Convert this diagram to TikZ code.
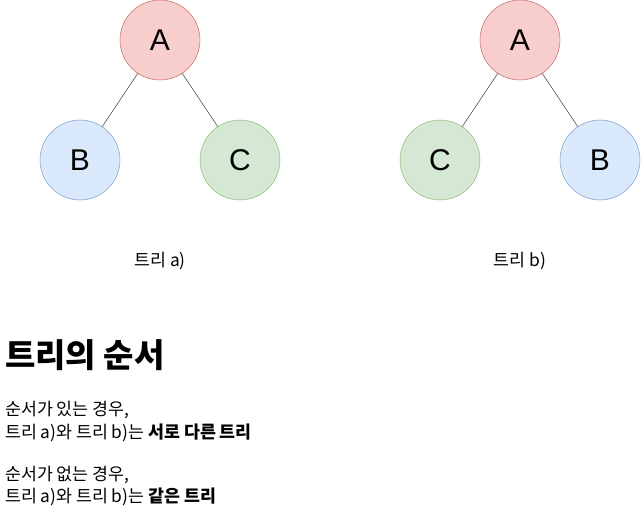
\documentclass[tikz,border=0pt]{standalone}
\usepackage{fontspec}
\setmainfont{Noto Sans CJK KR}
\newfontfamily\latinsans{Liberation Sans}
\begin{document}
\begin{tikzpicture}[x=1pt,y=-1pt,
  nd/.style={circle,minimum size=80pt,inner sep=0pt,font=\latinsans\fontsize{30}{32}\selectfont},
  red/.style={nd,fill={rgb,255:red,248;green,206;blue,204},draw={rgb,255:red,184;green,84;blue,80}},
  blu/.style={nd,fill={rgb,255:red,218;green,232;blue,252},draw={rgb,255:red,108;green,142;blue,191}},
  grn/.style={nd,fill={rgb,255:red,213;green,232;blue,212},draw={rgb,255:red,130;green,179;blue,102}},
  txt/.style={font=\fontsize{17.3}{22}\selectfont,inner sep=0pt}]
\useasboundingbox (0,0) rectangle (641,531);
\node[red] (a1) at (160,40) {A};
\node[blu] (b1) at (80,160) {B};
\node[grn] (c1) at (240,160) {C};
\node[red] (a2) at (520,40) {A};
\node[grn] (c2) at (440,160) {C};
\node[blu] (b2) at (600,160) {B};
\draw (a1)--(b1); \draw (a1)--(c1);
\draw (a2)--(c2); \draw (a2)--(b2);
\node[txt] (l1) at (160,261) {트리 a)};
\node[txt] (l2) at (520,261) {트리 b)};
\node[anchor=west,inner sep=0pt,font=\bfseries\fontsize{33}{36}\selectfont] (h) at (5,355) {트리의 순서};
\node[txt,anchor=west] (t1) at (5,410) {순서가 있는 경우,};
\node[txt,anchor=west] (t2) at (5,433) {트리 a)와 트리 b)는 \textbf{서로 다른 트리}};
\node[txt,anchor=west] (t3) at (5,475) {순서가 없는 경우,};
\node[txt,anchor=west] (t4) at (5,497) {트리 a)와 트리 b)는 \textbf{같은 트리}};
\end{tikzpicture}
\end{document}
